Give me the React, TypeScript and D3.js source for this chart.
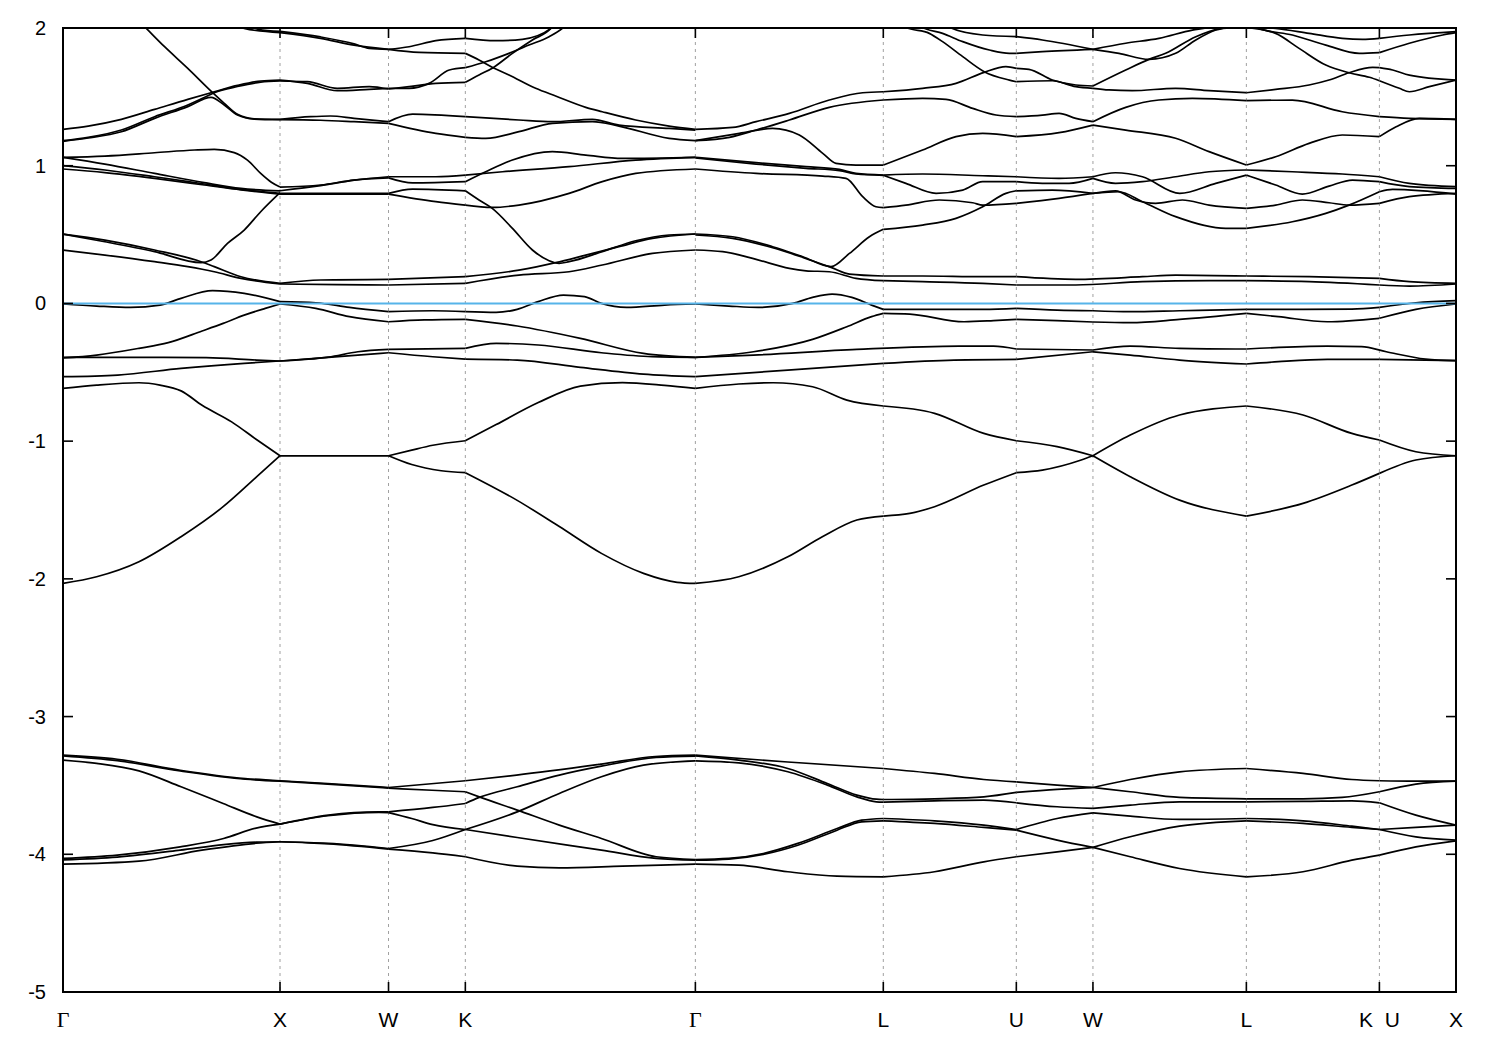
import React from 'react';
import * as d3 from 'd3';

// High-symmetry path (distance in units of 2π/a)
const kTicks = [0, 1, 1.5, 1.854, 2.914, 3.78, 4.393, 4.746, 5.453, 6.066, 6.419];
const kLabels = ['Γ', 'X', 'W', 'K', 'Γ', 'L', 'U', 'W', 'L', 'K  U', 'X'];
const eTicks = [-5, -4, -3, -2, -1, 0, 1, 2];
const eRange = [-5, 2];
const fermiLevel = 0;

// ---- lower d-like group, Γ-X-W-K-Γ ----
const b1 = [[0,-3.28],[0.25,-3.31],[0.54,-3.39],[0.84,-3.45],[1,-3.466],[1.22,-3.486],[1.5,-3.515],[1.854,-3.466],[2.09,-3.425],[2.48,-3.345],[2.73,-3.29],[2.914,-3.28]];
const b2 = [[0,-3.285],[0.25,-3.32],[0.54,-3.395],[0.84,-3.455],[1,-3.469],[1.22,-3.49],[1.5,-3.52],[1.7,-3.535],[1.854,-3.546],[1.918,-3.583],[2.093,-3.679],[2.287,-3.788],[2.481,-3.885],[2.733,-4.018],[2.914,-4.038]];
const b3 = [[0,-3.316],[0.155,-3.34],[0.35,-3.394],[0.544,-3.51],[0.738,-3.631],[0.893,-3.728],[1,-3.781],[1.223,-3.716],[1.456,-3.692],[1.5,-3.692],[1.704,-3.66],[1.854,-3.631],[1.918,-3.587],[2.093,-3.51],[2.287,-3.425],[2.481,-3.36],[2.733,-3.297],[2.914,-3.287]];
const b4 = [[0,-4.03],[0.25,-4.006],[0.54,-3.946],[0.74,-3.885],[0.89,-3.81],[1,-3.781],[1.22,-3.72],[1.456,-3.695],[1.5,-3.697],[1.607,-3.74],[1.704,-3.785],[1.854,-3.82],[2.093,-3.878],[2.481,-3.97],[2.733,-4.03],[2.914,-4.043]];
const b5 = [[0,-4.04],[0.25,-4.02],[0.54,-3.97],[0.74,-3.93],[0.89,-3.912],[1,-3.909],[1.223,-3.92],[1.5,-3.958],[1.704,-3.9],[1.854,-3.82],[2.093,-3.692],[2.287,-3.558],[2.481,-3.437],[2.675,-3.353],[2.914,-3.321]];
const b6 = [[0,-4.072],[0.35,-4.05],[0.64,-3.97],[0.89,-3.92],[1,-3.909],[1.223,-3.925],[1.5,-3.962],[1.704,-3.99],[1.854,-4.018],[2.093,-4.086],[2.287,-4.098],[2.578,-4.086],[2.914,-4.072]];

// ---- lower group, Γ-L-U-W-L-K-X ----
const c1 = [[2.914,-3.28],[3.34,-3.33],[3.78,-3.377],[4.016,-3.413],[4.243,-3.457],[4.393,-3.474],[4.581,-3.498],[4.746,-3.515],[4.918,-3.457],[5.145,-3.401],[5.453,-3.377],[5.714,-3.413],[5.939,-3.457],[6.066,-3.466],[6.234,-3.469],[6.419,-3.469]];
const c2 = [[2.914,-3.285],[3.114,-3.316],[3.34,-3.377],[3.522,-3.486],[3.658,-3.57],[3.748,-3.6],[3.78,-3.602],[4.016,-3.597],[4.243,-3.583],[4.393,-3.551],[4.581,-3.529],[4.746,-3.515],[4.918,-3.546],[5.145,-3.587],[5.453,-3.597],[5.714,-3.597],[5.894,-3.587],[6.066,-3.546],[6.234,-3.49],[6.419,-3.469]];
const c3 = [[2.914,-3.321],[3.114,-3.336],[3.34,-3.401],[3.522,-3.498],[3.658,-3.583],[3.748,-3.619],[3.78,-3.621],[4.016,-3.612],[4.243,-3.607],[4.393,-3.626],[4.581,-3.655],[4.746,-3.667],[4.918,-3.643],[5.145,-3.619],[5.453,-3.619],[5.714,-3.616],[5.939,-3.612],[6.066,-3.626],[6.234,-3.716],[6.419,-3.788]];
const c4 = [[2.914,-4.038],[3.068,-4.03],[3.227,-3.994],[3.386,-3.921],[3.567,-3.813],[3.68,-3.752],[3.78,-3.74],[4.016,-3.757],[4.243,-3.788],[4.393,-3.82],[4.581,-3.74],[4.746,-3.699],[4.918,-3.723],[5.145,-3.747],[5.453,-3.74],[5.714,-3.757],[5.939,-3.796],[6.066,-3.82],[6.234,-3.873],[6.419,-3.897]];
const c5 = [[2.914,-4.043],[3.068,-4.035],[3.227,-4.001],[3.386,-3.934],[3.567,-3.825],[3.68,-3.764],[3.78,-3.757],[4.016,-3.776],[4.243,-3.805],[4.393,-3.825],[4.581,-3.897],[4.746,-3.95],[4.918,-4.018],[5.145,-4.103],[5.453,-4.164],[5.714,-4.127],[5.939,-4.043],[6.066,-4.006],[6.234,-3.946],[6.419,-3.902]];
const c6 = [[2.914,-4.072],[3.114,-4.079],[3.34,-4.127],[3.567,-4.159],[3.78,-4.164],[4.016,-4.127],[4.243,-4.055],[4.393,-4.018],[4.581,-3.982],[4.746,-3.95],[4.918,-3.873],[5.145,-3.796],[5.453,-3.757],[5.714,-3.776],[5.939,-3.805],[6.066,-3.82],[6.234,-3.805],[6.419,-3.788]];

// ---- middle bands, Γ-X-W-K-Γ ----
const m1 = [[0,-2.033],[0.155,-1.985],[0.35,-1.876],[0.544,-1.694],[0.738,-1.476],[0.893,-1.258],[1,-1.106],[1.25,-1.106],[1.5,-1.106],[1.607,-1.17],[1.743,-1.215],[1.854,-1.229],[2.093,-1.43],[2.287,-1.62],[2.481,-1.815],[2.675,-1.96],[2.83,-2.025],[2.914,-2.033]];
const m2 = [[0,-0.617],[0.155,-0.593],[0.35,-0.576],[0.447,-0.593],[0.544,-0.635],[0.641,-0.74],[0.777,-0.86],[0.893,-0.99],[1,-1.106],[1.25,-1.106],[1.5,-1.106],[1.607,-1.065],[1.704,-1.03],[1.854,-0.997],[1.996,-0.88],[2.19,-0.72],[2.384,-0.6],[2.578,-0.575],[2.772,-0.595],[2.914,-0.617]];
const m3 = [[0,-0.532],[0.252,-0.52],[0.544,-0.472],[0.835,-0.435],[1,-0.418],[1.223,-0.392],[1.5,-0.358],[1.704,-0.387],[1.854,-0.404],[2.093,-0.411],[2.384,-0.464],[2.675,-0.513],[2.914,-0.532]];
const m4 = [[0,-0.392],[0.35,-0.392],[0.66,-0.394],[0.893,-0.411],[1,-0.418],[1.223,-0.39],[1.359,-0.351],[1.5,-0.334],[1.854,-0.326],[1.996,-0.29],[2.19,-0.302],[2.481,-0.358],[2.714,-0.387],[2.914,-0.392]];
const m5 = [[0,-0.396],[0.155,-0.375],[0.35,-0.326],[0.485,-0.285],[0.641,-0.2],[0.738,-0.145],[0.835,-0.085],[0.932,-0.036],[1,-0.004]];
const m6 = [[0,-0.004],[0.155,-0.019],[0.311,-0.029],[0.447,-0.012],[0.544,0.037],[0.689,0.093],[0.835,0.073],[1,0.013],[1.165,0.005],[1.32,-0.029],[1.5,-0.06],[1.704,-0.053],[1.854,-0.06],[1.996,-0.065],[2.093,-0.043],[2.19,0.013],[2.306,0.061],[2.403,0.049],[2.481,0.0],[2.597,-0.029],[2.772,-0.012],[2.914,-0.004]];
const m7 = [[1,-0.004],[1.165,-0.036],[1.32,-0.096],[1.5,-0.133],[1.665,-0.12],[1.854,-0.116],[2.093,-0.164],[2.384,-0.254],[2.675,-0.363],[2.914,-0.392]];

// ---- middle bands, Γ-L-U-W-L-K-X ----
const r1 = [[2.914,-2.033],[3.114,-1.985],[3.34,-1.84],[3.499,-1.694],[3.658,-1.573],[3.78,-1.544],[3.902,-1.525],[4.016,-1.476],[4.243,-1.319],[4.393,-1.229],[4.513,-1.21],[4.692,-1.137],[4.746,-1.106],[4.918,-0.956],[5.145,-0.81],[5.453,-0.745],[5.714,-0.81],[5.939,-0.944],[6.066,-0.992],[6.234,-1.077],[6.419,-1.106]];
const r2 = [[2.914,-0.617],[3.114,-0.585],[3.272,-0.576],[3.454,-0.605],[3.612,-0.702],[3.78,-0.745],[4.016,-0.798],[4.243,-0.944],[4.393,-0.997],[4.581,-1.04],[4.746,-1.106],[4.918,-1.258],[5.145,-1.428],[5.453,-1.544],[5.714,-1.452],[5.939,-1.319],[6.066,-1.234],[6.234,-1.137],[6.419,-1.106]];
const r3 = [[2.914,-0.532],[3.34,-0.484],[3.78,-0.435],[4.106,-0.411],[4.393,-0.406],[4.746,-0.351],[4.918,-0.375],[5.145,-0.411],[5.453,-0.44],[5.6,-0.423],[5.826,-0.406],[6.066,-0.406],[6.419,-0.416]];
const r4 = [[2.914,-0.392],[3.182,-0.375],[3.658,-0.334],[4.129,-0.31],[4.288,-0.31],[4.393,-0.331],[4.746,-0.338],[4.918,-0.31],[5.145,-0.326],[5.453,-0.331],[5.826,-0.31],[5.984,-0.314],[6.098,-0.351],[6.279,-0.404],[6.419,-0.416]];
const n1 = [[2.914,-0.004],[3.068,-0.019],[3.204,-0.029],[3.363,0.0],[3.454,0.044],[3.544,0.068],[3.635,0.044],[3.726,-0.012],[3.78,-0.043],[4.016,-0.043],[4.243,-0.043],[4.393,-0.036],[4.581,-0.048],[4.746,-0.053],[4.918,-0.06],[5.145,-0.053],[5.453,-0.043],[5.714,-0.043],[5.939,-0.041],[6.066,-0.029],[6.234,0.005],[6.419,0.02]];
const n2 = [[2.914,-0.392],[3.182,-0.351],[3.454,-0.261],[3.612,-0.169],[3.726,-0.096],[3.78,-0.072],[3.902,-0.077],[4.152,-0.133],[4.288,-0.125],[4.393,-0.116],[4.581,-0.125],[4.746,-0.135],[4.918,-0.14],[5.145,-0.116],[5.453,-0.072],[5.6,-0.096],[5.826,-0.133],[6.066,-0.108],[6.234,-0.043],[6.419,-0.004]];

// ---- upper bands, Γ-X-W-K-Γ ----
const u1 = [[0.36,2.035],[0.384,1.997],[0.468,1.864],[0.575,1.707],[0.682,1.542],[0.743,1.453],[0.804,1.373],[0.881,1.341],[1,1.337],[1.141,1.356],[1.233,1.361],[1.341,1.344],[1.5,1.32],[1.611,1.375],[1.854,1.356],[2.101,1.332],[2.255,1.32],[2.439,1.337],[2.562,1.295],[2.793,1.271],[2.914,1.259]];
const u2 = [[0,1.264],[0.116,1.288],[0.269,1.337],[0.422,1.409],[0.575,1.482],[0.682,1.53],[0.804,1.583],[0.911,1.615],[1,1.622],[1.126,1.598],[1.264,1.545],[1.411,1.555],[1.5,1.562],[1.595,1.562],[1.687,1.598],[1.78,1.695],[1.854,1.712],[1.948,1.755],[2.055,1.816],[2.147,1.876],[2.24,1.937],[2.301,1.997],[2.33,2.04]];
const u3 = [[0,1.182],[0.116,1.206],[0.269,1.259],[0.422,1.356],[0.575,1.441],[0.651,1.496],[0.697,1.53],[0.804,1.575],[0.911,1.607],[1,1.615],[1.126,1.61],[1.264,1.562],[1.411,1.575],[1.5,1.557],[1.595,1.574],[1.718,1.598],[1.854,1.605],[1.917,1.659],[1.982,1.712],[2.071,1.816],[2.163,1.913],[2.248,1.997],[2.27,2.04]];
const u4 = [[0,1.177],[0.116,1.201],[0.269,1.247],[0.422,1.344],[0.575,1.429],[0.682,1.496],[0.743,1.441],[0.804,1.368],[0.881,1.339],[1,1.334],[1.187,1.33],[1.341,1.32],[1.5,1.308],[1.718,1.235],[1.854,1.206],[1.948,1.199],[2.101,1.247],[2.255,1.308],[2.439,1.32],[2.562,1.288],[2.793,1.199],[2.914,1.182]];
const t0a = [[0.8,2.03],[0.835,1.997],[1,1.966],[1.187,1.925],[1.341,1.876],[1.5,1.845],[1.641,1.823],[1.854,1.816],[1.917,1.768],[1.982,1.712],[2.055,1.659],[2.178,1.562],[2.27,1.506],[2.409,1.424],[2.485,1.392],[2.639,1.332],[2.793,1.288],[2.914,1.264]];
const t0b = [[0.86,2.03],[0.9,1.99],[1,1.975],[1.187,1.935],[1.341,1.885],[1.411,1.852],[1.5,1.845],[1.595,1.864],[1.718,1.908],[1.854,1.925],[1.994,1.908],[2.117,1.918],[2.248,1.997],[2.27,2.03]];
const u5 = [[0,1.061],[0.193,1.07],[0.422,1.094],[0.606,1.114],[0.697,1.119],[0.789,1.095],[0.85,1.04],[0.911,0.944],[0.96,0.88],[1,0.845],[1.187,0.86],[1.341,0.896],[1.5,0.912],[1.611,0.875],[1.854,0.884],[1.948,0.956],[2.071,1.041],[2.255,1.102],[2.409,1.077],[2.578,1.053],[2.914,1.061]];
const u6 = [[0,1.061],[0.193,1.012],[0.422,0.944],[0.651,0.877],[0.82,0.835],[1,0.818],[1.187,0.855],[1.341,0.895],[1.5,0.92],[1.718,0.92],[1.854,0.932],[2.025,0.956],[2.332,0.993],[2.639,1.041],[2.914,1.061]];
const u7 = [[0,1.0],[0.193,0.969],[0.422,0.92],[0.651,0.867],[0.82,0.828],[1,0.799],[1.264,0.8],[1.5,0.799],[1.611,0.83],[1.854,0.818],[1.917,0.751],[1.978,0.69],[2.071,0.545],[2.163,0.388],[2.24,0.31],[2.286,0.291],[2.332,0.303],[2.485,0.376],[2.639,0.455],[2.793,0.497],[2.914,0.504]];
const u8 = [[0,0.976],[0.193,0.95],[0.422,0.908],[0.651,0.86],[0.82,0.824],[1,0.794],[1.264,0.794],[1.5,0.794],[1.718,0.739],[1.854,0.714],[1.978,0.697],[2.101,0.714],[2.332,0.799],[2.485,0.884],[2.639,0.944],[2.914,0.976]];
const u9 = [[0,0.504],[0.193,0.46],[0.422,0.388],[0.636,0.303],[0.697,0.267],[0.82,0.194],[1,0.146],[1.187,0.17],[1.5,0.175],[1.854,0.194],[2.101,0.242],[2.27,0.296],[2.409,0.351],[2.562,0.412],[2.716,0.472],[2.914,0.504]];
const u10 = [[0,0.504],[0.193,0.448],[0.422,0.376],[0.636,0.296],[0.682,0.315],[0.758,0.436],[0.835,0.533],[0.911,0.666],[1,0.804]];
const u11 = [[0,0.388],[0.193,0.351],[0.422,0.303],[0.575,0.267],[0.697,0.23],[0.82,0.182],[1,0.141],[1.264,0.136],[1.5,0.134],[1.854,0.146],[2.101,0.206],[2.332,0.23],[2.485,0.279],[2.716,0.363],[2.914,0.388]];

// ---- upper bands, Γ-L-U-W-L-K-X ----
const g1 = [[2.914,1.264],[3.086,1.278],[3.194,1.32],[3.347,1.38],[3.531,1.477],[3.685,1.53],[3.78,1.537],[3.961,1.562],[4.115,1.598],[4.245,1.678],[4.345,1.719],[4.393,1.707],[4.451,1.7],[4.559,1.622],[4.667,1.586],[4.746,1.579],[4.897,1.695],[5.004,1.772],[5.081,1.816],[5.22,1.937],[5.342,1.997],[5.453,2.005]];
const g2 = [[2.914,1.182],[3.071,1.206],[3.194,1.259],[3.347,1.332],[3.531,1.424],[3.78,1.477],[3.961,1.489],[4.069,1.482],[4.192,1.416],[4.299,1.368],[4.393,1.356],[4.513,1.368],[4.59,1.38],[4.667,1.344],[4.746,1.32],[4.897,1.424],[5.05,1.477],[5.204,1.489],[5.453,1.472],[5.665,1.477],[5.895,1.392],[6.066,1.356],[6.204,1.344],[6.419,1.337]];
const g3 = [[2.914,1.182],[3.117,1.235],[3.27,1.271],[3.393,1.223],[3.501,1.09],[3.562,1.017],[3.654,1.005],[3.78,1.005],[3.961,1.114],[4.115,1.211],[4.238,1.235],[4.393,1.211],[4.59,1.24],[4.746,1.295],[4.897,1.259],[5.127,1.199],[5.281,1.102],[5.453,1.005],[5.588,1.065],[5.742,1.162],[5.895,1.223],[6.066,1.211],[6.143,1.283],[6.25,1.344],[6.419,1.337]];
const g5 = [[2.914,1.061],[3.194,1.022],[3.424,0.993],[3.578,0.973],[3.654,0.944],[3.78,0.932],[3.961,0.94],[4.238,0.927],[4.393,0.92],[4.59,0.908],[4.746,0.92],[4.85,0.949],[4.974,0.92],[5.146,0.799],[5.312,0.872],[5.453,0.932],[5.588,0.86],[5.711,0.794],[5.834,0.852],[5.942,0.896],[6.066,0.884],[6.204,0.848],[6.419,0.835]];
const g6 = [[2.914,1.056],[3.194,1.012],[3.424,0.981],[3.578,0.964],[3.654,0.94],[3.78,0.93],[3.884,0.872],[4.023,0.799],[4.146,0.823],[4.238,0.884],[4.393,0.884],[4.513,0.872],[4.636,0.872],[4.746,0.908],[4.85,0.872],[4.974,0.884],[5.127,0.92],[5.281,0.956],[5.453,0.969],[5.665,0.956],[5.895,0.94],[6.066,0.92],[6.204,0.872],[6.419,0.848]];
const g4 = [[2.914,0.976],[3.194,0.944],[3.501,0.925],[3.608,0.908],[3.685,0.775],[3.746,0.702],[3.78,0.695],[3.884,0.714],[4.038,0.751],[4.192,0.731],[4.238,0.714],[4.393,0.727],[4.59,0.763],[4.746,0.799],[4.85,0.818],[4.943,0.751],[5.035,0.727],[5.158,0.751],[5.281,0.714],[5.453,0.69],[5.588,0.714],[5.711,0.751],[5.834,0.731],[5.926,0.714],[6.066,0.727],[6.204,0.775],[6.419,0.799]];
const s1 = [[2.914,0.504],[3.086,0.484],[3.27,0.412],[3.409,0.339],[3.539,0.267],[3.624,0.363],[3.716,0.484],[3.78,0.538],[3.961,0.569],[4.115,0.618],[4.238,0.702],[4.345,0.799],[4.393,0.818],[4.559,0.823],[4.746,0.799],[4.866,0.811],[4.974,0.739],[5.127,0.63],[5.358,0.545],[5.453,0.545],[5.665,0.593],[5.819,0.654],[5.926,0.714],[6.066,0.811],[6.127,0.828],[6.419,0.794]];
const s2 = [[2.914,0.497],[3.086,0.472],[3.27,0.404],[3.409,0.334],[3.539,0.262],[3.624,0.213],[3.78,0.199],[3.961,0.199],[4.238,0.194],[4.393,0.194],[4.667,0.175],[4.974,0.194],[5.127,0.206],[5.453,0.199],[5.742,0.194],[6.066,0.182],[6.204,0.158],[6.419,0.146]];
const s3 = [[2.914,0.388],[3.04,0.376],[3.194,0.32],[3.347,0.254],[3.424,0.237],[3.531,0.23],[3.654,0.182],[3.78,0.165],[3.961,0.158],[4.238,0.146],[4.393,0.134],[4.667,0.134],[4.974,0.158],[5.281,0.165],[5.453,0.165],[5.742,0.158],[6.066,0.134],[6.204,0.126],[6.419,0.141]];
const z1 = [[3.86,2.06],[3.884,2.005],[3.992,1.961],[4.053,1.901],[4.146,1.792],[4.245,1.683],[4.361,1.622],[4.393,1.61],[4.559,1.617],[4.667,1.574],[4.746,1.562],[4.82,1.55],[4.927,1.545],[5.127,1.562],[5.281,1.545],[5.453,1.53],[5.588,1.554],[5.742,1.586],[5.834,1.622],[5.926,1.675],[6.035,1.714],[6.066,1.712],[6.127,1.695],[6.204,1.658],[6.419,1.622]];
const z2 = [[3.94,2.03],[3.961,2.005],[4.053,1.961],[4.146,1.901],[4.269,1.84],[4.361,1.816],[4.393,1.816],[4.513,1.828],[4.746,1.845],[4.897,1.889],[5.05,1.925],[5.204,1.985],[5.281,2.005],[5.3,2.03]];
const z3 = [[4.06,2.03],[4.084,2.005],[4.238,1.949],[4.393,1.937],[4.513,1.913],[4.746,1.845],[4.866,1.816],[5.004,1.772],[5.127,1.816],[5.22,1.913],[5.312,1.985],[5.358,2.005],[5.38,2.03]];
const t1b = [[5.4,2.03],[5.42,2.01],[5.588,1.997],[5.742,1.961],[5.895,1.925],[5.988,1.918],[6.066,1.925],[6.204,1.949],[6.419,1.973]];
const t2b = [[5.48,2.03],[5.511,1.997],[5.665,1.949],[5.819,1.876],[5.973,1.816],[6.066,1.821],[6.204,1.889],[6.358,1.949],[6.419,1.966]];
const t3b = [[5.453,2.005],[5.588,1.961],[5.696,1.852],[5.819,1.731],[5.926,1.675],[6.02,1.642],[6.066,1.617],[6.158,1.562],[6.204,1.537],[6.296,1.574],[6.419,1.622]];

const bands = [
  b1, b2, b3, b4, b5, b6, c1, c2, c3, c4, c5, c6,
  m1, m2, m3, m4, m5, m6, m7, r1, r2, r3, r4, n1, n2,
  u1, u2, u3, u4, t0a, t0b, u5, u6, u7, u8, u9, u10, u11,
  g1, g2, g3, g5, g6, g4, s1, s2, s3, z1, z2, z3, t1b, t2b, t3b,
];

function splitAtTicks(pts: number[][]) {
  const pieces: number[][][] = [];
  let cur: number[][] = [];
  pts.forEach((p, i) => {
    cur.push(p);
    const onTick = kTicks.some((t) => Math.abs(t - p[0]) < 1e-3);
    if (onTick && i > 0 && i < pts.length - 1) {
      pieces.push(cur);
      cur = [p];
    }
  });
  if (cur.length > 1) pieces.push(cur);
  return pieces;
}

export default function App() {
  const W = 1500;
  const H = 1050;
  const m = { left: 63, right: 44, top: 28, bottom: 58 };
  const x = d3.scaleLinear().domain([kTicks[0], kTicks[kTicks.length - 1]]).range([m.left, W - m.right]);
  const y = d3.scaleLinear().domain(eRange).range([H - m.bottom, m.top]);
  const line = d3
    .line<number[]>()
    .x((d) => x(d[0]))
    .y((d) => y(d[1]))
    .curve(d3.curveMonotoneX);
  const x0 = m.left;
  const x1 = W - m.right;
  const y0 = m.top;
  const y1 = H - m.bottom;
  const tickLen = 10;
  const sans = '"Liberation Sans", Arial, sans-serif';
  const serif = '"Liberation Serif", "Times New Roman", serif';

  return (
    <div style={{ position: 'absolute', left: 0, top: 0 }}>
      <svg width={W} height={H} style={{ display: 'block', background: '#fff' }}>
        <defs>
          <clipPath id="plotClip">
            <rect x={x0} y={y0} width={x1 - x0} height={y1 - y0} />
          </clipPath>
        </defs>
        {/* high-symmetry dashed lines */}
        {kTicks.slice(1, -1).map((k, i) => (
          <line key={'v' + i} x1={x(k)} x2={x(k)} y1={y0} y2={y1} stroke="#a0a0a0" strokeWidth={1} strokeDasharray="3,4" />
        ))}
        {/* bands */}
        <g clipPath="url(#plotClip)" fill="none" stroke="#000" strokeWidth={1.7} strokeLinejoin="round">
          {bands.map((b, i) =>
            splitAtTicks(b).map((piece, j) => <path key={i + '-' + j} d={line(piece) || ''} />)
          )}
        </g>
        {/* Fermi level */}
        <line x1={x0} x2={x1} y1={y(fermiLevel)} y2={y(fermiLevel)} stroke="#56b4e9" strokeWidth={2} />
        {/* frame */}
        <rect x={x0} y={y0} width={x1 - x0} height={y1 - y0} fill="none" stroke="#000" strokeWidth={2} />
        {/* y ticks */}
        {eTicks.map((t) => (
          <g key={'y' + t}>
            <line x1={x0} x2={x0 + tickLen} y1={y(t)} y2={y(t)} stroke="#000" strokeWidth={1.6} />
            <line x1={x1} x2={x1 - tickLen} y1={y(t)} y2={y(t)} stroke="#000" strokeWidth={1.6} />
            <text x={46} y={y(t) + 7} textAnchor="end" fontFamily={sans} fontSize={20} fill="#000">
              {String(t)}
            </text>
          </g>
        ))}
        {/* x ticks */}
        {kTicks.map((k, i) => (
          <g key={'x' + i}>
            <line x1={x(k)} x2={x(k)} y1={y1} y2={y1 - tickLen} stroke="#000" strokeWidth={1.6} />
            <line x1={x(k)} x2={x(k)} y1={y0} y2={y0 + tickLen} stroke="#000" strokeWidth={1.6} />
            <text
              x={x(k)}
              y={1027}
              textAnchor="middle"
              fontFamily={kLabels[i] === 'Γ' ? serif : sans}
              fontSize={kLabels[i] === 'Γ' ? 22 : 21}
              fill="#000"
              xmlSpace="preserve"
              style={{ whiteSpace: 'pre' }}
            >
              {kLabels[i]}
            </text>
          </g>
        ))}
      </svg>
    </div>
  );
}
